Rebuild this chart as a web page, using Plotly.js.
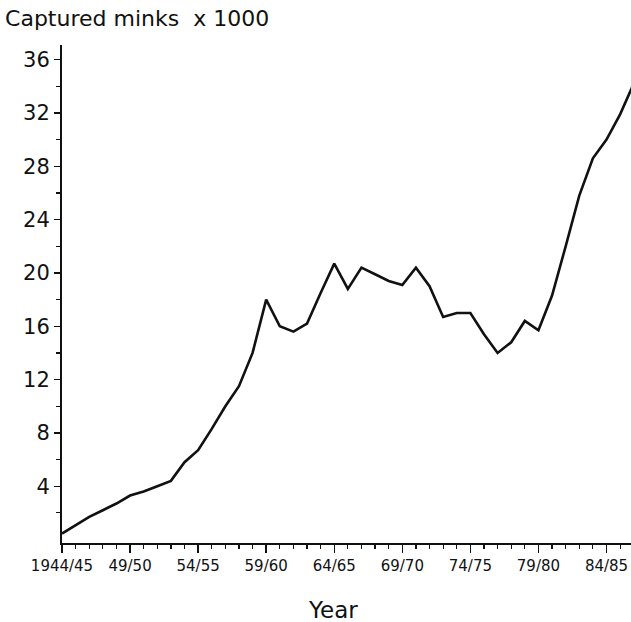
<!DOCTYPE html>
<html>
<head>
<meta charset="utf-8">
<script src="https://cdn.plot.ly/plotly-3.0.1.min.js"></script>
<style>
html,body{margin:0;padding:0;background:#fff;}
#chart{width:631px;height:622px;}
</style>
</head>
<body>
<div id="chart"></div>
<script>
// Season start years (1944 = 1944/45 ... 1986 = 1986/87)
var seasonYears = [1944,1945,1946,1947,1948,1949,1950,1951,1952,1953,
                   1954,1955,1956,1957,1958,1959,1960,1961,1962,1963,
                   1964,1965,1966,1967,1968,1969,1970,1971,1972,1973,
                   1974,1975,1976,1977,1978,1979,1980,1981,1982,1983,
                   1984,1985,1986];
// Captured minks (thousands)
var capturedMinks = [0.45,1.1,1.7,2.2,2.7,3.3,3.6,4.0,4.4,5.8,
                     6.7,8.3,10.0,11.5,14.0,18.0,16.0,15.6,16.2,18.5,
                     20.7,18.8,20.4,19.9,19.4,19.1,20.4,19.0,16.7,17.0,
                     17.0,15.4,14.0,14.8,16.4,15.7,18.3,22.0,25.8,28.6,
                     30.0,31.9,34.2];
var xTickVals = [1944,1949,1954,1959,1964,1969,1974,1979,1984];
var xTickText = ["1944/45","49/50","54/55","59/60","64/65","69/70","74/75","79/80","84/85"];
var yTickVals = [4,8,12,16,20,24,28,32,36];
var yTickText = ["4","8","12","16","20","24","28","32","36"];

var font = "DejaVu Sans, Arial, sans-serif";

var trace = {
  x: seasonYears,
  y: capturedMinks,
  type: "scatter",
  mode: "lines",
  line: {color: "#111", width: 2.6},
  hoverinfo: "skip"
};

var layout = {
  width: 631,
  height: 622,
  margin: {l: 62, r: 0, t: 45, b: 79},
  paper_bgcolor: "#fff",
  plot_bgcolor: "#fff",
  showlegend: false,
  title: {
    text: "Captured minks  x 1000",
    font: {family: font, size: 22, color: "#111"},
    x: 0.008, xref: "container", xanchor: "left",
    y: 0.97, yref: "container", yanchor: "middle"
  },
  xaxis: {
    range: [1944, 1985.8],
    showgrid: false,
    zeroline: false,
    showline: true,
    linecolor: "#111",
    linewidth: 2,
    ticks: "outside",
    ticklen: 8,
    tickwidth: 1.5,
    tickcolor: "#111",
    tickmode: "array",
    tickvals: xTickVals,
    ticktext: xTickText,
    tickfont: {family: font, size: 15, color: "#111"},
    minor: {tickmode: "linear", tick0: 1944, dtick: 1, ticks: "outside", ticklen: 4, tickwidth: 1.2, tickcolor: "#111", showgrid: false},
    fixedrange: true
  },
  yaxis: {
    range: [-0.26, 37.1],
    showgrid: false,
    zeroline: false,
    showline: true,
    linecolor: "#111",
    linewidth: 2,
    ticks: "outside",
    ticklen: 6,
    tickwidth: 1.2,
    tickcolor: "#111",
    tickmode: "array",
    tickvals: yTickVals,
    ticktext: yTickText,
    tickfont: {family: font, size: 21, color: "#111"},
    minor: {tickmode: "linear", tick0: 2, dtick: 4, ticks: "outside", ticklen: 4, tickwidth: 1.2, tickcolor: "#111", showgrid: false},
    fixedrange: true
  },
  annotations: [{
    text: "Year",
    xref: "paper", yref: "paper",
    x: 0.476, y: -0.135,
    xanchor: "center", yanchor: "middle",
    showarrow: false,
    font: {family: font, size: 23, color: "#111"}
  }]
};

Plotly.newPlot("chart", [trace], layout, {displayModeBar: false, staticPlot: true});
</script>
</body>
</html>
